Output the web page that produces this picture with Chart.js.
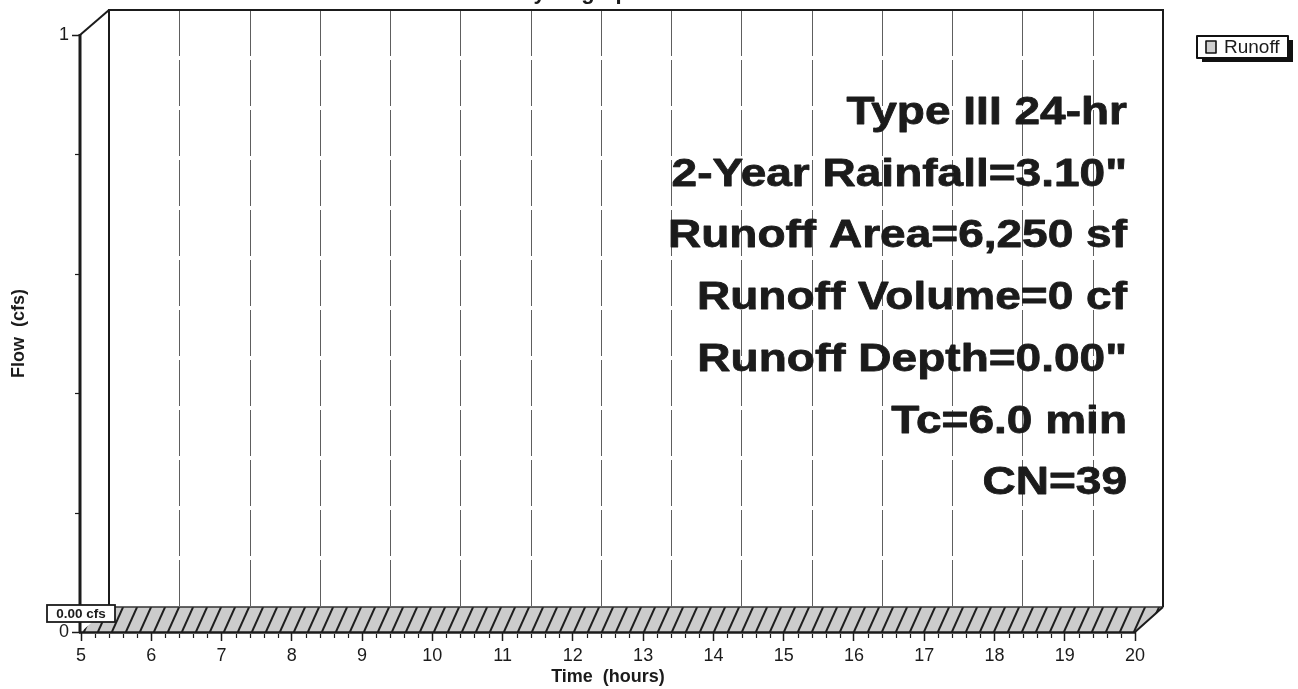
<!DOCTYPE html>
<html><head><meta charset="utf-8">
<script src="https://cdn.jsdelivr.net/npm/chart.js@4/dist/chart.umd.min.js"></script>
<style>html,body{margin:0;padding:0;background:#fff;}canvas{display:block;}</style>
</head><body>
<canvas id="c" width="1298" height="689" style="width:1298px;height:689px"></canvas>
<script>
// ---- data ----
const chartTitle = 'Hydrograph';
const seriesName = 'Runoff';
const timeHours = [5, 6, 7, 8, 9, 10, 11, 12, 13, 14, 15, 16, 17, 18, 19, 20];
const runoffFlow = [0, 0, 0, 0, 0, 0, 0, 0, 0, 0, 0, 0, 0, 0, 0, 0];
const peakTime = 5;
const peakFlow = 0.00;
const peakUnit = 'cfs';
const annotationLines = [
  'Type III 24-hr',
  '2-Year Rainfall=3.10"',
  'Runoff Area=6,250 sf',
  'Runoff Volume=0 cf',
  'Runoff Depth=0.00"',
  'Tc=6.0 min',
  'CN=39'
];
const xTitleText = 'Time  (hours)';
const yTitleText = 'Flow  (cfs)';
const xRange = [5, 20];
const yRange = [0, 1];
const xMajorStep = 1;
const xMinorStep = 0.2;
const yMajorStep = 1;
const yMinorStep = 0.2;

// ---- styling ----
const DX = 28, DY = -25;
const FONT = '"Liberation Sans", Arial, sans-serif';
const INK = '#1b1b1b';

const threeD = {
  id: 'threeD',
  beforeDatasetsDraw(chart) {
    const {ctx, chartArea: a, scales: {x, y}} = chart;
    const x0 = x.getPixelForValue(xRange[0]);
    const x1 = x.getPixelForValue(xRange[1]);
    const yb = y.getPixelForValue(yRange[0]);
    const yt = y.getPixelForValue(yRange[1]);
    ctx.save();

    // back gridlines (dashed, vertical)
    ctx.strokeStyle = '#5e5e5e';
    ctx.lineWidth = 1;
    ctx.setLineDash([46, 4]);
    x.ticks.forEach(t => {
      if (t.value <= xRange[0] || t.value >= xRange[1]) return;
      const px = Math.round(x.getPixelForValue(t.value) + DX) + 0.5;
      ctx.beginPath();
      ctx.moveTo(px, yt + DY);
      ctx.lineTo(px, yb + DY);
      ctx.stroke();
    });
    ctx.setLineDash([]);

    // back panel frame
    ctx.strokeStyle = INK;
    ctx.lineWidth = 2;
    ctx.beginPath();
    ctx.moveTo(x0 + DX, yb + DY);
    ctx.lineTo(x0 + DX, yt + DY);
    ctx.lineTo(x1 + DX, yt + DY);
    ctx.lineTo(x1 + DX, yb + DY);
    ctx.stroke();
    // connector top-left
    ctx.beginPath();
    ctx.moveTo(x0 - 1, yt);
    ctx.lineTo(x0 + DX, yt + DY);
    ctx.stroke();

    // runoff ribbon from the dataset points
    const meta = chart.getDatasetMeta(0);
    const pts = meta.data.map(p => ({x: p.x, y: p.y}));
    const ribbon = () => {
      ctx.beginPath();
      pts.forEach((p, i) => i ? ctx.lineTo(p.x, p.y) : ctx.moveTo(p.x, p.y));
      for (let i = pts.length - 1; i >= 0; i--) ctx.lineTo(pts[i].x + DX, pts[i].y + DY);
      ctx.closePath();
    };
    ribbon();
    ctx.fillStyle = '#cccccc';
    ctx.fill();
    ctx.save();
    ribbon();
    ctx.clip();
    ctx.strokeStyle = '#1e1e1e';
    ctx.lineWidth = 2;
    for (let hx = a.left - 40; hx < a.right + 60; hx += 14) {
      ctx.beginPath();
      ctx.moveTo(hx, yb + 2);
      ctx.lineTo(hx + 13, yb + DY - 2);
      ctx.stroke();
    }
    ctx.restore();
    // ribbon outline
    ctx.strokeStyle = '#333';
    ctx.lineWidth = 1.4;
    ctx.beginPath();
    pts.forEach((p, i) => i ? ctx.lineTo(p.x + DX, p.y + DY) : ctx.moveTo(p.x + DX, p.y + DY));
    ctx.stroke();
    ctx.strokeStyle = INK;
    ctx.lineWidth = 2;
    const last = pts[pts.length - 1];
    ctx.beginPath();
    ctx.moveTo(last.x, last.y);
    ctx.lineTo(last.x + DX, last.y + DY);
    ctx.stroke();
    ctx.lineWidth = 2.5;
    ctx.beginPath();
    ctx.moveTo(x0 - 2, yb + 0.5);
    ctx.lineTo(x1, yb + 0.5);
    ctx.stroke();

    // front y axis line
    ctx.lineWidth = 3;
    ctx.beginPath();
    ctx.moveTo(x0 - 1, yt - 1);
    ctx.lineTo(x0 - 1, yb + 1);
    ctx.stroke();

    // minor ticks
    ctx.lineWidth = 1.2;
    ctx.strokeStyle = INK;
    const nx = Math.round((xRange[1] - xRange[0]) / xMinorStep);
    for (let i = 1; i < nx; i++) {
      const v = xRange[0] + i * xMinorStep;
      if (Math.abs(v - Math.round(v)) < 1e-6) continue;
      const px = Math.round(x.getPixelForValue(v)) + 0.5;
      ctx.beginPath(); ctx.moveTo(px, yb + 2); ctx.lineTo(px, yb + 6); ctx.stroke();
    }
    const ny = Math.round((yRange[1] - yRange[0]) / yMinorStep);
    for (let i = 1; i < ny; i++) {
      const v = yRange[0] + i * yMinorStep;
      const py = Math.round(y.getPixelForValue(v)) + 0.5;
      ctx.beginPath(); ctx.moveTo(x0 - 6, py); ctx.lineTo(x0 - 2, py); ctx.stroke();
    }
    ctx.restore();
  },
  afterDatasetsDraw(chart) {
    const {ctx, chartArea: a, scales: {x, y}} = chart;
    ctx.save();

    // title (cut by the top edge, as in the reference)
    ctx.fillStyle = INK;
    ctx.font = 'bold 22px ' + FONT;
    ctx.textAlign = 'center';
    ctx.textBaseline = 'alphabetic';
    ctx.fillText(chartTitle, (a.left + a.right) / 2 - 28, -1.5);

    // peak label box
    const px = x.getPixelForValue(peakTime);
    const py = y.getPixelForValue(peakFlow);
    const bx = px - 34, by = py - 27, bw = 68, bh = 17;
    ctx.fillStyle = '#fff';
    ctx.fillRect(bx, by, bw, bh);
    ctx.strokeStyle = INK;
    ctx.lineWidth = 1.8;
    ctx.strokeRect(bx, by, bw, bh);
    ctx.fillStyle = INK;
    ctx.font = 'bold 13.5px ' + FONT;
    ctx.textAlign = 'center';
    ctx.textBaseline = 'middle';
    ctx.fillText(peakFlow.toFixed(2) + ' ' + peakUnit, bx + bw / 2, by + bh / 2 + 1);

    // annotation block (wide bold lettering)
    ctx.font = 'bold 39px ' + FONT;
    ctx.textAlign = 'right';
    ctx.textBaseline = 'alphabetic';
    ctx.lineJoin = 'round';
    ctx.strokeStyle = INK;
    ctx.lineWidth = 0.8;
    const rx = a.right - 8;
    annotationLines.forEach((line, i) => {
      ctx.save();
      ctx.translate(rx, a.top + 89 + i * 61.7);
      ctx.scale(1.18, 1);
      ctx.fillText(line, 0, 0);
      ctx.strokeText(line, 0, 0);
      ctx.restore();
    });

    // legend box with shadow
    const lx = chart.width - 101, ly = 36, lw = 91, lh = 22;
    ctx.fillStyle = '#111';
    ctx.fillRect(lx + 5, ly + 4, lw, lh);
    ctx.fillStyle = '#fff';
    ctx.fillRect(lx, ly, lw, lh);
    ctx.strokeStyle = '#111';
    ctx.lineWidth = 2;
    ctx.strokeRect(lx, ly, lw, lh);
    ctx.fillStyle = '#cfcfcf';
    ctx.fillRect(lx + 9, ly + 5, 10, 12);
    ctx.lineWidth = 1.6;
    ctx.strokeRect(lx + 9, ly + 5, 10, 12);
    ctx.fillStyle = INK;
    ctx.font = '19px ' + FONT;
    ctx.textAlign = 'left';
    ctx.textBaseline = 'middle';
    ctx.fillText(chart.data.datasets[0].label, lx + 27, ly + lh / 2 + 1);
    ctx.restore();
  }
};

new Chart(document.getElementById('c'), {
  type: 'line',
  data: {
    datasets: [{
      label: seriesName,
      data: timeHours.map((t, i) => ({x: t, y: runoffFlow[i]})),
      showLine: false,
      pointRadius: 0,
      borderWidth: 0,
      fill: false
    }]
  },
  options: {
    responsive: false,
    animation: false,
    events: [],
    layout: {padding: {left: 0, top: 35, right: 163, bottom: 0}},
    plugins: {legend: {display: false}, tooltip: {enabled: false}, title: {display: false}},
    scales: {
      x: {
        type: 'linear', min: xRange[0], max: xRange[1],
        ticks: {stepSize: xMajorStep, autoSkip: false, maxRotation: 0, padding: 4,
                color: INK, font: {family: FONT, size: 18}},
        grid: {display: true, drawOnChartArea: false, drawTicks: true, tickLength: 9, color: INK, tickWidth: 1.5},
        border: {display: false},
        title: {display: true, text: xTitleText, color: INK, font: {family: FONT, size: 18, weight: 'bold'}, padding: {top: 0, bottom: 1}},
        afterFit: s => { s.height = 57; }
      },
      y: {
        type: 'linear', min: yRange[0], max: yRange[1],
        ticks: {stepSize: yMajorStep, padding: 3, color: INK, font: {family: FONT, size: 18}},
        grid: {display: true, drawOnChartArea: false, drawTicks: true, tickLength: 9, color: INK, tickWidth: 1.5},
        border: {display: false},
        title: {display: true, text: yTitleText, color: INK, font: {family: FONT, size: 18, weight: 'bold'}, padding: {top: 8, bottom: 0}},
        afterFit: s => { s.width = 81; }
      }
    }
  },
  plugins: [threeD]
});
</script>
</body></html>
